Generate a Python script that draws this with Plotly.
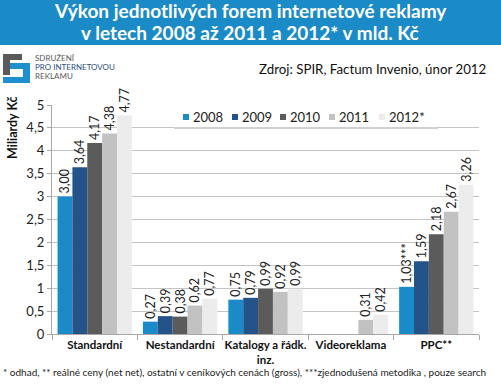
import plotly.graph_objects as go

categories = ["Standardní", "Nestandardní", "Katalogy a řádk.<br>inz.", "Videoreklama", "PPC**"]
years = ["2008", "2009", "2010", "2011", "2012*"]
v2008 = [3.00, 0.27, 0.75, None, 1.03]
v2009 = [3.64, 0.39, 0.79, None, 1.59]
v2010 = [4.17, 0.38, 0.99, None, 2.18]
v2011 = [4.38, 0.62, 0.92, 0.31, 2.67]
v2012 = [4.77, 0.77, 0.99, 0.42, 3.26]
series = [v2008, v2009, v2010, v2011, v2012]
label_suffix = {("2008", 4): "***"}
colors = ["#1a8ac8", "#24538a", "#5b5b5b", "#c2c2c2", "#ececec"]
yticks = [0, 0.5, 1, 1.5, 2, 2.5, 3, 3.5, 4, 4.5, 5]

FONT = "Lato"
W, H = 501, 388
L, R, T, B = 52, 479, 105, 334

def px(x):
    return (x - L) / (R - L)

def py(y):
    return (B - y) / (B - T)

fig = go.Figure()
for name, vals, col in zip(years, series, colors):
    texts = []
    for i, v in enumerate(vals):
        if v is None:
            texts.append("")
        else:
            t = f"{v:.2f}".replace(".", ",") + label_suffix.get((name, i), "")
            texts.append(t)
    fig.add_trace(go.Bar(
        name=name, x=categories, y=vals, marker=dict(color=col, line=dict(width=0)),
        text=texts, textposition="outside", textangle=-90,
        textfont=dict(family=FONT, size=12.5, color="#222222"),
        constraintext="none", cliponaxis=False, showlegend=False,
    ))

fig.update_layout(
    width=W, height=H,
    margin=dict(l=L, r=W - R, t=T, b=H - B, autoexpand=False),
    paper_bgcolor="white", plot_bgcolor="white",
    barmode="group", bargap=0.13, bargroupgap=0,
    separators=", ",
    font=dict(family=FONT, color="#222222"),
    showlegend=False,
    xaxis=dict(
        showgrid=False, showline=True, linecolor="#a8a8a8", linewidth=1,
        ticks="outside", tickson="boundaries", ticklen=5, tickcolor="#a8a8a8",
        tickangle=0, automargin=False,
        tickfont=dict(family=FONT, size=11.5, color="#111111", weight="bold"),
    ),
    yaxis=dict(
        range=[0, 5], tickvals=yticks, showgrid=True, gridcolor="#c4c4c4", gridwidth=1,
        showline=True, linecolor="#a8a8a8", ticks="outside", ticklen=4, tickcolor="#a8a8a8",
        tickfont=dict(family=FONT, size=13, color="#222222"), zeroline=False,
        tickformat=",.1~f", automargin=False,
    ),
)

shapes = []
# title banner
shapes.append(dict(type="rect", xref="paper", yref="paper", x0=px(0), x1=px(W), y0=py(0), y1=py(45),
                   fillcolor="#1b8bc8", line=dict(width=0)))
# logo
gray = "#5a5a5a"
blue = "#1f8fd0"
for (x0, y0, x1, y1, c) in [
    (3, 54, 22, 60, gray), (3, 54, 10, 75, gray),
    (10, 63, 29, 69, blue), (23, 63, 30, 83, blue), (3, 77, 30, 83, blue),
]:
    shapes.append(dict(type="rect", xref="paper", yref="paper", x0=px(x0), x1=px(x1), y0=py(y0), y1=py(y1),
                       fillcolor=c, line=dict(width=0)))
# legend box (white) with shadow line
shapes.append(dict(type="rect", xref="paper", yref="paper", x0=px(174), x1=px(438), y0=py(107), y1=py(127),
                   fillcolor="white", line=dict(width=0)))
shapes.append(dict(type="line", xref="paper", yref="paper", x0=px(174), x1=px(438), y0=py(128), y1=py(128),
                   line=dict(color="#d0d0d0", width=2)))
leg_x = [183, 232, 280, 329, 379]
for xx, c in zip(leg_x, colors):
    shapes.append(dict(type="rect", xref="paper", yref="paper", x0=px(xx), x1=px(xx + 6), y0=py(114), y1=py(120),
                       fillcolor=c, line=dict(width=0)))
fig.update_layout(shapes=shapes)

ann = []
for xx, name in zip(leg_x, years):
    ann.append(dict(text=name, x=px(xx + 8), y=py(117), xref="paper", yref="paper", showarrow=False,
                    xanchor="left", yanchor="middle", font=dict(family=FONT, size=13, color="#222222")))
for txt, yy in [("<b>Výkon jednotlivých forem internetové reklamy</b>", 11),
                ("<b>v letech 2008 až 2011 a 2012* v mld. Kč</b>", 32.5)]:
    ann.append(dict(text=txt, x=px(250), y=py(yy), xref="paper", yref="paper", showarrow=False,
                    font=dict(family=FONT, size=19, color="white"), xanchor="center", yanchor="middle"))
for txt, yy, c in [("SDRUŽENÍ", 58, "#5a5a5a"), ("PRO INTERNETOVOU", 67, "#2d4f7a"), ("REKLAMU", 76, "#5a5a5a")]:
    ann.append(dict(text=txt, x=px(33), y=py(yy), xref="paper", yref="paper", showarrow=False,
                    xanchor="left", yanchor="middle", font=dict(family=FONT, size=8, color=c)))
ann.append(dict(text="Zdroj: SPIR, Factum Invenio, únor 2012", x=px(488), y=py(69), xref="paper", yref="paper",
                showarrow=False, xanchor="right", yanchor="middle", font=dict(family=FONT, size=13.3, color="#111111")))
ann.append(dict(text="<b>Miliardy Kč</b>", x=px(12), y=py(128), xref="paper", yref="paper", showarrow=False,
                textangle=-90, xanchor="center", yanchor="middle", font=dict(family=FONT, size=12.5, color="#111111")))
ann.append(dict(text="* odhad, ** reálné ceny (net net), ostatní v ceníkových cenách (gross), ***zjednodušená metodika , pouze search",
                x=px(1), y=py(372), xref="paper", yref="paper", showarrow=False, xanchor="left", yanchor="middle",
                font=dict(family=FONT, size=10, color="#222222")))
fig.update_layout(annotations=ann)

fig.write_html("out.html", config={"displayModeBar": False},
               post_script="document.body.style.margin='0';document.body.style.overflow='hidden';")
